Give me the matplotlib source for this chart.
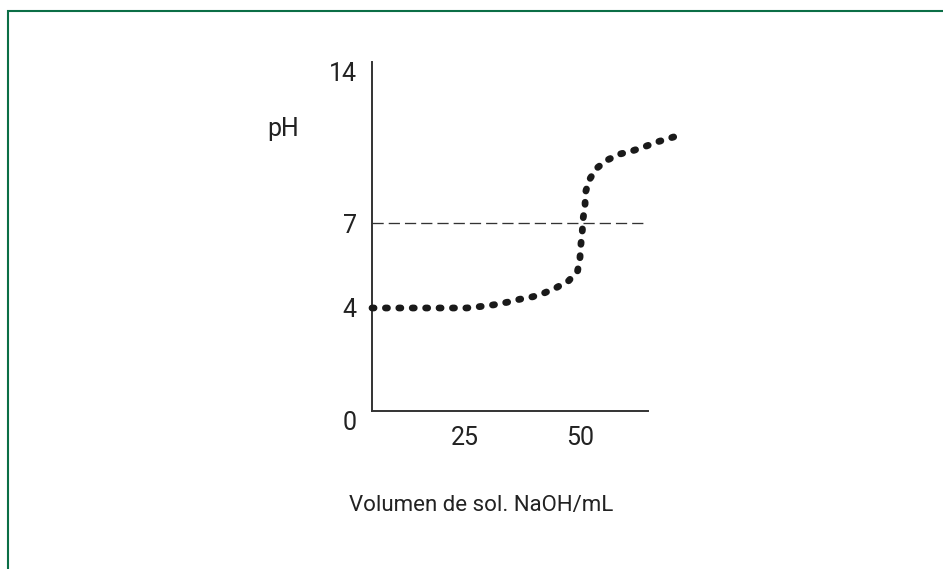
import numpy as np
import matplotlib
matplotlib.use("Agg")
import matplotlib.pyplot as plt
from matplotlib.patches import Rectangle

# no narrow font installed, Roboto is the closest
plt.rcParams['font.family'] = ['Roboto', 'DejaVu Sans']

# data
vol = [5, 10, 15, 20, 25.4, 28.3, 31.2, 34.1, 36.9, 39.75, 42.3, 44.9, 47.5, 49.4,
       49.9, 50.1, 50.4, 50.6, 51.0, 51.1, 51.9, 53.5, 55.8, 58.4, 61.3, 63.9, 66.8, 70.2]
ph = [4.0, 4.0, 4.0, 4.0, 4.0, 4.05, 4.11, 4.20, 4.31, 4.40, 4.54, 4.73, 4.97, 5.32,
      5.76, 6.24, 6.71, 7.24, 7.85, 8.44, 9.01, 9.55, 9.93, 10.20, 10.36, 10.55, 10.78, 11.0]
ph_ticks = [4, 7, 14]
vol_ticks = [25, 50]
neutral_ph = 7

# the y axis of the original is schematic, not linear
knots_ph = [-10, 0, 4, 7, 14, 30]
knots_pos = [-257.5, 0, 103, 187.5, 339, 685]

def fwd(v):
    return np.interp(v, knots_ph, knots_pos)

def inv(p):
    return np.interp(p, knots_pos, knots_ph)

ink = '#333333'
txt = '#222222'
W, H = 943, 569
fig = plt.figure(figsize=(W/100, H/100), dpi=100)

# green frame round the figure
fig.patches.append(Rectangle((8/W, -0.05), 1.2, (H-11)/H + 0.05, transform=fig.transFigure,
                             fill=False, edgecolor='#0b6e46', linewidth=1.5))

ax = fig.add_axes([372/W, (H-411)/H, (648-372)/W, (411-62)/H])
ax.set_yscale('function', functions=(fwd, inv))
ax.set_xlim(5, 64.6)
ax.set_ylim(0, 14.46)

for s in ['top', 'right']:
    ax.spines[s].set_visible(False)
for s in ['left', 'bottom']:
    ax.spines[s].set_color(ink)
    ax.spines[s].set_linewidth(1.4)

ax.set_xticks(vol_ticks)
ax.set_yticks(ph_ticks)
ax.set_yticks([], minor=True)
ax.tick_params(length=0, labelsize=18, colors=txt, pad=11)
ax.set_yticklabels([str(t) for t in ph_ticks])

# neutral line
ax.hlines(neutral_ph, 5, 63.9, colors=ink, linewidth=0.95, linestyles=(0, (8.5, 3.8)))

# titration curve, dotted
ax.plot(vol, ph, color='#1a1a1a', linewidth=4.9, linestyle=(0, (0.3, 1.67)),
        dash_capstyle='round', clip_on=False, zorder=3)

ax.annotate('0', xy=(5, 0), xytext=(-22, -12), textcoords='offset pixels',
            ha='center', va='center', fontsize=18, color=txt)

fig.text(283/W, 1 - 129/H, 'pH', ha='center', va='center', fontsize=18, color=txt)
fig.text(481/W, 1 - 506/H, 'Volumen de sol. NaOH/mL', ha='center', va='center',
         fontsize=16, color=txt)

fig.savefig('out.png', dpi=100)
